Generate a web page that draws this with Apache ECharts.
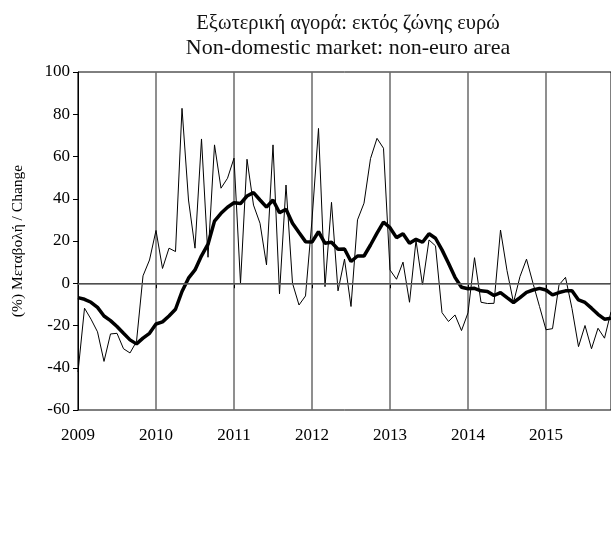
<!DOCTYPE html>
<html>
<head>
<meta charset="utf-8">
<script src="https://cdn.jsdelivr.net/npm/echarts@6/dist/echarts.min.js"></script>
<style>
  html, body { margin: 0; padding: 0; background: #fff; }
  #chart { width: 611px; height: 536px; }
</style>
</head>
<body>
<div id="chart"></div>
<script>
// Εξωτερική αγορά: εκτός ζώνης ευρώ — μηνιαία μεταβολή (%)
const YEARS = ['2009', '2010', '2011', '2012', '2013', '2014', '2015'];
const N_MONTHS = 83; // Ιαν 2009 – Νοε 2015

// λεπτή γραμμή: μηνιαία μεταβολή
const monthly = [
  -42, -11.8, -17, -23, -37, -24, -23.7, -31, -33, -27.6, 3.5, 11,
  25, 7, 16.6, 15, 82.8, 39.4, 16.6, 68.3, 12.3, 65.5, 45, 49.7,
  59.2, 0, 58.7, 37, 28.4, 8.7, 65.5, -5, 46.5, 0, -10.3, -6,
  30, 73.3, -1.6, 38.3, -3.6, 11.4, -11, 30, 37.9, 59, 68.6, 63.9,
  6.3, 1.9, 10, -9, 20.2, -0.8, 20.5, 17.7, -13.9, -18.1, -15, -22.4,
  -14, 12.1, -9, -9.6, -9.5, 25.2, 6, -9.1, 3.2, 11.4, 0, -11,
  -22, -21.5, -0.8, 2.8, -12, -30, -20, -31, -21.3, -26, -13.5
];

// παχιά γραμμή: κινητός μέσος
const smoothed = [
  -6.8, -7.6, -9, -11.4, -15.5, -17.7, -20.5, -23.7, -26.8, -28.7, -26, -23.7,
  -19.3, -18.3, -15.5, -12.3, -3.9, 2.4, 6.3, 13, 18.5, 29.4, 33.1, 36,
  38.1, 37.7, 41.3, 42.9, 39.4, 36, 39.4, 33.4, 35, 28.4, 24, 19.7,
  19.5, 24.4, 18.9, 19.4, 16.1, 16.2, 10.3, 12.9, 12.9, 18.1, 23.7, 28.9,
  26.3, 21.6, 23.4, 18.9, 20.8, 19.4, 23.4, 21.3, 15.8, 9.5, 2.8, -1.9,
  -2.6, -2.4, -3.6, -3.9, -5.8, -4.4, -6.8, -9.1, -6.8, -4.3, -3.2, -2.4,
  -3.2, -5.5, -4.4, -3.6, -3.5, -7.9, -9.1, -11.8, -14.7, -17, -16.5
];

const months = [];
for (let i = 0; i < N_MONTHS; i++) {
  months.push(YEARS[Math.floor(i / 12)] + '-' + String(i % 12 + 1).padStart(2, '0'));
}

const FONT = '"Liberation Serif", "DejaVu Serif", serif';
const GRAY = '#6a6a6a';

const chart = echarts.init(document.getElementById('chart'), null, { renderer: 'canvas' });
chart.setOption({
  animation: false,
  title: {
    text: '{a|Εξωτερική αγορά: εκτός ζώνης ευρώ}\n{b|Non-domestic market: non-euro area}',
    left: 343, top: 7, textAlign: 'center',
    textStyle: {
      fontWeight: 'normal',
      rich: {
        a: { fontFamily: FONT, fontWeight: 'normal', fontSize: 20.5, lineHeight: 24, color: '#111', align: 'center' },
        b: { fontFamily: FONT, fontWeight: 'normal', fontSize: 22, lineHeight: 24, color: '#111', align: 'center' },
      },
    },
  },
  grid: {
    left: 78, right: 0, top: 72, bottom: 126, containLabel: false, outerBoundsMode: 'none',
    show: true, borderColor: '#000', borderWidth: 1,
  },
  xAxis: {
    type: 'category', data: months, boundaryGap: false,
    axisLine: { lineStyle: { color: '#000', width: 1 } },
    axisTick: { interval: 11, length: 5, lineStyle: { color: '#000' } },
    axisLabel: { interval: 11, margin: 17, color: '#000', fontFamily: FONT, fontSize: 17,
      formatter: v => v.slice(0, 4) },
    splitLine: { show: true, interval: 11, lineStyle: { color: GRAY, width: 1.5 } },
  },
  yAxis: {
    type: 'value', min: -60, max: 100, interval: 20,
    name: '(%) Μεταβολή / Change', nameLocation: 'middle', nameGap: 52, nameRotate: 90,
    nameTextStyle: { fontFamily: FONT, fontSize: 15.5, color: '#000' },
    axisLine: { show: true, lineStyle: { color: '#000', width: 1 } },
    axisTick: { show: true, length: 5, lineStyle: { color: '#000' } },
    axisLabel: { margin: 8, color: '#000', fontFamily: FONT, fontSize: 17 },
    splitLine: { show: false },
  },
  series: [
    {
      type: 'line', data: monthly, showSymbol: false, silent: true,
      lineStyle: { color: '#000', width: 1 },
      markLine: {
        silent: true, symbol: 'none', label: { show: false },
        lineStyle: { color: GRAY, width: 1.5, type: 'solid' },
        data: [{ yAxis: 0 }],
      },
    },
    {
      type: 'line', data: smoothed, showSymbol: false, silent: true,
      lineStyle: { color: '#000', width: 3.5 },
    },
  ],
});
</script>
</body>
</html>
